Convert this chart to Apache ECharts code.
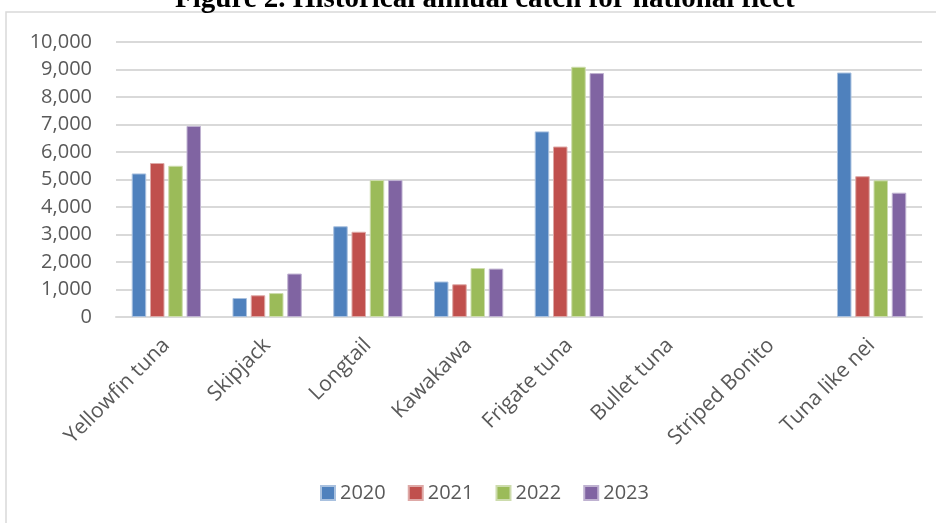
<!DOCTYPE html>
<html>
<head>
<meta charset="utf-8">
<script src="https://cdn.jsdelivr.net/npm/echarts@6/dist/echarts.min.js"></script>
<style>
html,body{margin:0;padding:0;background:#fff;}
#chart{width:936px;height:523px;}
</style>
</head>
<body>
<div id="chart"></div>
<script>
const titleText = "Figure 2. Historical annual catch for national fleet";
const categories = ["Yellowfin tuna", "Skipjack", "Longtail", "Kawakawa", "Frigate tuna", "Bullet tuna", "Striped Bonito", "Tuna like nei"];
const years = ["2020", "2021", "2022", "2023"];
const values2020 = [5220, 690, 3300, 1290, 6750, 0, 0, 8890];
const values2021 = [5600, 790, 3100, 1190, 6200, 0, 0, 5120];
const values2022 = [5500, 870, 4980, 1780, 9100, 0, 0, 4970];
const values2023 = [6950, 1580, 4980, 1760, 8870, 0, 0, 4520];
const yMin = 0, yMax = 10000, yInterval = 1000;

const colors = ["#4F81BD", "#C0504D", "#9BBB59", "#8064A2"];
const borders = ["#a9c1df", "#dea9a7", "#cddcad", "#bfb2d1"];
const allValues = [values2020, values2021, values2022, values2023];

const chart = echarts.init(document.getElementById('chart'), null, {renderer: 'canvas'});
const font = "'Open Sans', sans-serif";
chart.setOption({
  animation: false,
  title: {
    text: titleText,
    left: 170,
    top: -20,
    textStyle: {fontFamily: "'Liberation Serif', 'Times New Roman', serif", fontWeight: 'bold', fontSize: 29, color: '#000'}
  },
  graphic: [{
    type: 'rect',
    shape: {x: 6, y: 12, width: 1000, height: 1000},
    style: {fill: 'none', stroke: '#d9d9d9', lineWidth: 1.5},
    silent: true,
    z: -1
  }],
  legend: {
    data: years,
    left: 315,
    top: 478,
    itemWidth: 14,
    itemHeight: 14,
    itemGap: 22,
    icon: 'rect',
    textStyle: {fontFamily: font, fontSize: 20, color: '#595959'}
  },
  grid: {left: 116, right: 14, top: 42, bottom: 206, containLabel: false},
  xAxis: {
    type: 'category',
    data: categories,
    axisLine: {show: true, lineStyle: {color: '#d9d9d9', width: 2}},
    axisTick: {show: false},
    axisLabel: {rotate: 45, margin: 25, interval: 0, fontFamily: font, fontSize: 21, color: '#595959'}
  },
  yAxis: {
    type: 'value',
    min: yMin,
    max: yMax,
    interval: yInterval,
    axisLine: {show: false},
    axisTick: {show: false},
    splitLine: {lineStyle: {color: '#d9d9d9', width: 2}},
    axisLabel: {
      margin: 24, fontFamily: font, fontSize: 20, color: '#595959',
      formatter: v => v.toLocaleString('en-US')
    }
  },
  series: years.map((y, i) => ({
    name: y,
    type: 'bar',
    data: allValues[i].map(v => v === 0 ? {value: v, itemStyle: {borderWidth: 0}} : v),
    barWidth: 14.5,
    barGap: '26%',
    itemStyle: {color: colors[i], borderColor: borders[i], borderWidth: 1}
  }))
});
</script>
</body>
</html>
